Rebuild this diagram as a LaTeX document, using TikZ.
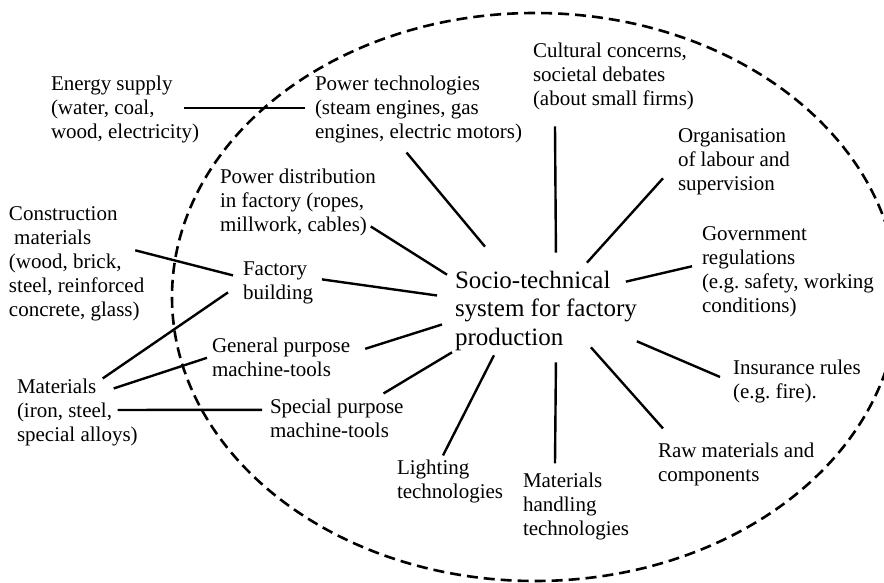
\documentclass[tikz,border=0pt]{standalone}
\usepackage{fontspec}
\setmainfont{Liberation Serif}
\frenchspacing
\tikzset{
  lbl/.style={anchor=base west, align=left, inner sep=0pt, outer sep=0pt,
    font=\fontsize{21}{24}\selectfont},
  hub/.style={lbl, font=\fontsize{25}{28.5}\selectfont},
  link/.style={line width=2.4pt},
  sysline/.style={line width=2.6pt, dash pattern=on 11pt off 6pt}
}
\begin{document}
\begin{tikzpicture}[x=1pt,y=-1pt]
  \useasboundingbox (0,0) rectangle (884,583);
  % system boundary
  \draw [sysline] (535,297) ellipse [x radius=363pt, y radius=284pt];

  % nodes are placed at the baseline of their last line
  \node [hub] (ctr) at (455,345) {Socio-technical\\system for factory\\production};

  \node [lbl] (eng) at (51,139) {Energy supply\\(water, coal,\\wood, electricity)};
  \node [lbl] (pwr) at (315,139) {Power technologies\\(steam engines, gas\\engines, electric motors)};
  \node [lbl] (cul) at (533,106) {Cultural concerns,\\societal debates\\(about small firms)};
  \node [lbl] (org) at (678,190) {Organisation\\of labour and\\supervision};
  \node [lbl] (gov) at (702,312) {Government\\regulations\\(e.g. safety, working\\conditions)};
  \node [lbl] (ins) at (733,398) {Insurance rules\\(e.g. fire).};
  \node [lbl] (raw) at (658,481) {Raw materials and\\components};
  \node [lbl] (hnd) at (523,535) {Materials\\handling\\technologies};
  \node [lbl] (lgt) at (397,498) {Lighting\\technologies};
  \node [lbl] (spc) at (270,437) {Special purpose\\machine-tools};
  \node [lbl] (gen) at (212,376) {General purpose\\machine-tools};
  \node [lbl] (mat) at (17,441) {Materials\\(iron, steel,\\special alloys)};
  \node [lbl] (con) at (9,316) {Construction\\\ materials\\(wood, brick,\\steel, reinforced\\concrete, glass)};
  \node [lbl] (pdi) at (220,231) {Power distribution\\in factory (ropes,\\millwork, cables)};
  \node [lbl] (fac) at (243,299) {Factory\\building};

  % links
  \draw [link] ([shift={(-15,-2)}]eng.east) -- ([shift={(-10,-2)}]pwr.west);
  \draw [link] ([shift={(-12,9)}]pwr.south) -- ([shift={(30,-24)}]ctr.north west);
  \draw [link] ([shift={(22,16)}]cul.south west) -- ([shift={(10,-18)}]ctr.north);
  \draw [link] ([shift={(-15,17)}]org.west) -- ([shift={(41,-8)}]ctr.north);
  \draw [link] ([shift={(-10,-5)}]gov.west) -- ([shift={(-11,11)}]ctr.north east);
  \draw [link] ([shift={(-13,-4)}]ins.west) -- ([shift={(0,-9)}]ctr.south east);
  \draw [link] ([shift={(5,-14)}]raw.north west) -- ([shift={(45,-3)}]ctr.south);
  \draw [link] ([shift={(32,-9)}]hnd.north west) -- ([shift={(10,12)}]ctr.south);
  \draw [link] ([shift={(46,-4)}]lgt.north west) -- ([shift={(-52,5)}]ctr.south);
  \draw [link] ([shift={(-20,-5)}]spc.north east) -- ([shift={(-3,2)}]ctr.south west);
  \draw [link] ([shift={(15,-8)}]gen.east) -- ([shift={(-13,14)}]ctr.west);
  \draw [link] ([shift={(9,-3)}]fac.east) -- ([shift={(-18,-15)}]ctr.west);
  \draw [link] ([shift={(-5,-9)}]pdi.south east) -- ([shift={(-8,4)}]ctr.north west);
  \draw [link] ([shift={(-9,-13)}]con.east) -- ([shift={(-10,-7)}]fac.west);
  \draw [link] ([shift={(-35,0)}]mat.north east) -- ([shift={(-15,10)}]fac.west);
  \draw [link] ([shift={(-24,10)}]mat.north east) -- ([shift={(-5,1)}]gen.west);
  \draw [link] ([shift={(-20,-2)}]mat.east) -- ([shift={(-8,-8)}]spc.west);
\end{tikzpicture}
\end{document}
